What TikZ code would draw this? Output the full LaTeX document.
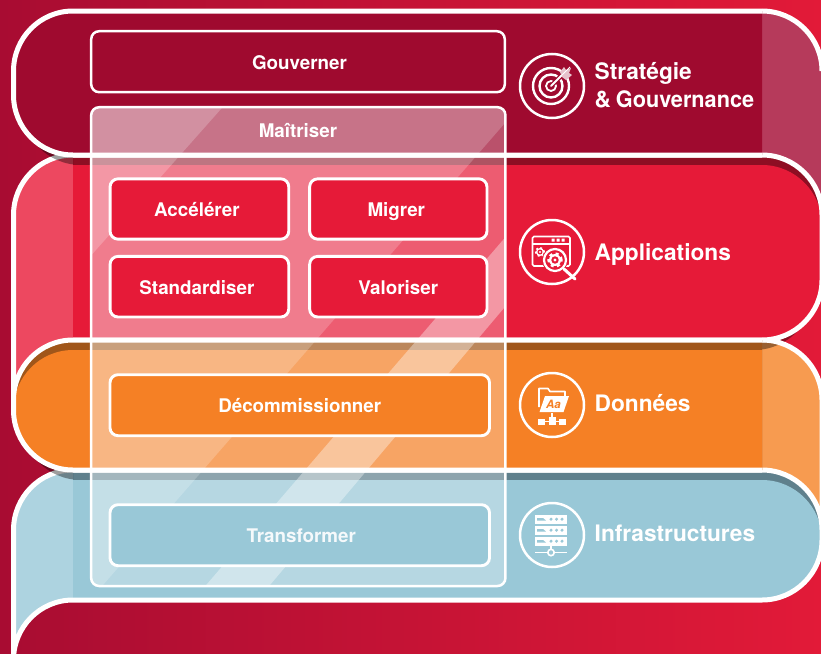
\documentclass[tikz,border=0pt]{standalone}
\usepackage{fontspec}
\setmainfont{TeX Gyre Heros}
\definecolor{bgL}{HTML}{A80C32}
\definecolor{bgR}{HTML}{E21A38}
\definecolor{bandA}{HTML}{9F0A2F}
\definecolor{bandAl}{HTML}{B63A5B}
\definecolor{bandB}{HTML}{E61A38}
\definecolor{bandBl}{HTML}{ED4860}
\definecolor{bandBd}{HTML}{8E0E23}
\definecolor{bandC}{HTML}{F58025}
\definecolor{bandCl}{HTML}{F79B50}
\definecolor{bandCd}{HTML}{A0561A}
\definecolor{bandD}{HTML}{99C8D7}
\definecolor{bandDl}{HTML}{ADD3E0}
\definecolor{bandDd}{HTML}{5F808C}
\def\PathA{(762,11) -- (73,11) .. controls (40,11) and (13.5,38) .. (13.5,71) -- (13.5,95) .. controls (13.5,128) and (40,155) .. (73,155) -- (762,155)}
\def\PathB{(13.5,400) -- (13.5,215) .. controls (13.5,182) and (40,155) .. (73,155) -- (762,155) .. controls (795,155) and (822,182) .. (822,215) -- (822,280) .. controls (822,313) and (795,340) .. (762,340) -- (73,340)}
\def\PathC{(762,340) -- (73,340) .. controls (40,340) and (13.5,367) .. (13.5,400) -- (13.5,410) .. controls (13.5,443) and (40,470) .. (73,470) -- (762,470)}
\def\PathD{(73,600) .. controls (40,600) and (13.5,627) .. (13.5,660) -- (13.5,530) .. controls (13.5,497) and (40,470) .. (73,470) -- (762,470) .. controls (795,470) and (822,497) .. (822,530) -- (822,540) .. controls (822,573) and (795,600) .. (762,600) -- cycle}
\tikzset{
  edgeline/.style={draw=white,line width=5pt},
  shadowfill/.style={fill=black,fill opacity=.38},
  boxfont/.style={text=white,font=\fontsize{18.8}{20}\selectfont\bfseries,text height=15.5pt,text depth=0pt},
  boxA/.style={draw=white,line width=2.9pt,rounded corners=8pt,minimum height=61pt,inner sep=0pt,boxfont},
  sidelabel/.style={text=white,font=\fontsize{22.7}{27}\selectfont\bfseries,anchor=base west,inner sep=0pt},
  ring/.style={draw=white,line width=2.5pt},
}
\newcommand{\gearmark}[4]{% x y r colour
  \fill[white] (#1,#2) circle[radius=#3*1pt];
  \draw[white,line width=#3*.45pt,dash pattern=on #3*.5pt off #3*.55pt] (#1,#2) circle[radius=#3*1.05pt];
  \fill[#4] (#1,#2) circle[radius=#3*.62pt];
  \fill[white] (#1,#2) circle[radius=#3*.28pt];
}
\begin{document}
\begin{tikzpicture}[x=1pt,y=-1pt]
\useasboundingbox (0,0) rectangle (821,653);
\clip (0,0) rectangle (821,653);
% background
\shade[left color=bgL,right color=bgR] (0,0) rectangle (821,653);
% fold of band A
\fill[bandAl] (762,11) .. controls (795,11) and (822,38) .. (822,71) -- (822,230) -- (762,230) -- cycle;
\draw[edgeline] (762,11) .. controls (795,11) and (822,38) .. (822,71);
% fold of band C
\fill[bandCl] (762,340) .. controls (795,340) and (822,367) .. (822,400) -- (822,560) -- (762,560) -- cycle;
% shadow of band B on fold
\begin{scope}
  \clip (762,300) rectangle (830,400);
  \path[shadowfill,shift={(-8,10)}] \PathB -- cycle;
\end{scope}
\draw[edgeline] (762,340) .. controls (795,340) and (822,367) .. (822,400) -- (822,560);
% band B
\begin{scope}
  \clip \PathB -- cycle;
  \fill[bandB] (0,150) rectangle (830,410);
  \fill[bandBd] (73,150) rectangle (830,240);
  \path[fill=bandB,shift={(0,10)}] \PathB -- cycle;
  \fill[bandBl] (0,150) rectangle (73,410);
\end{scope}
\path[edgeline] \PathB;
% shadow of band A on band B and background
\begin{scope}
  \clip (0,100) rectangle (73,200);
  \path[shadowfill,shift={(8,10)}] \PathA -- cycle;
\end{scope}
% band A
\path[fill=bandA] \PathA -- cycle;
\path[edgeline] \PathA;
% band D
\begin{scope}
  \clip \PathD;
  \fill[bandD] (0,460) rectangle (830,660);
  \fill[bandDd] (73,460) rectangle (830,560);
  \path[fill=bandD,shift={(0,10)}] \PathD;
  \fill[bandDl] (0,460) rectangle (73,660);
\end{scope}
\path[edgeline] \PathD;
% shadow of band C
\begin{scope}
  \clip (0,420) rectangle (73,500);
  \path[shadowfill,shift={(8,10)}] \PathC -- cycle;
\end{scope}
% band C
\begin{scope}
  \clip \PathC -- cycle;
  \fill[bandCd] (0,330) rectangle (770,480);
  \path[fill=bandC,shift={(0,10)}] \PathC -- cycle;
  \fill[bandC] (0,400) rectangle (770,480);
\end{scope}
\path[edgeline] \PathC;
% translucent panel
\begin{scope}
  \clip[rounded corners=8pt] (91,107) rectangle (505.5,586);
  \fill[white,fill opacity=.29] (80,100) rectangle (520,600);
  \fill[white,fill opacity=.2] (80,100) -- (525,100) -- (90,600) -- (80,600) -- cycle;
  \fill[white,fill opacity=.21] (80,100) -- (229,100) -- (80,268) -- cycle;
  \fill[white,fill opacity=.366] (515,226) -- (515,295) -- (259,598) -- (195,598) -- cycle;
\end{scope}
\node[draw=white,line width=2.5pt,rounded corners=8pt,minimum width=414.3pt,minimum height=478.8pt,inner sep=0pt] (panel) at (298.3,346.6) {};
\node[boxfont,inner sep=0pt] (mait) at (298,130) {Maîtriser};
% boxes
\node[boxA,line width=2.5pt,minimum width=413.6pt] (gouv) at (298,61.7) {\hspace*{3pt}Gouverner};
\node[boxA,fill=bandB,minimum width=178.7pt,minimum height=60.3pt] (acc) at (199.4,209) {\hspace*{-5pt}Accélérer};
\node[boxA,fill=bandB,minimum width=177.3pt,minimum height=60.3pt] (mig) at (398.3,209) {\hspace*{-4pt}Migrer};
\node[boxA,fill=bandB,minimum width=178.7pt,minimum height=60.6pt] (sta) at (199.4,286.7) {\hspace*{-5pt}Standardiser};
\node[boxA,fill=bandB,minimum width=177.3pt,minimum height=60.6pt] (val) at (398.3,286.7) {Valoriser};
\node[boxA,fill=bandC,minimum width=379.5pt] (dec) at (299.75,405.2) {Décommissionner};
\node[boxA,fill=bandD,minimum width=379.5pt,text=white!90!bandD] (tra) at (299.75,535.2) {\hspace*{3pt}Transformer};
% side labels
\node[sidelabel] (strat) at (594.5,79) {Stratégie};
\node[sidelabel] (gouvl) at (594.5,107) {\&\hspace{-1.5pt} \scalebox{0.955}[1]{Gouvernance}};
\node[sidelabel] (appl) at (594.5,260) {Applications};
\node[sidelabel] (donn) at (594.5,411) {Données};
\node[sidelabel] (infr) at (594.5,541) {Infrastructures};
% icon rings
\node[ring,circle,minimum size=64pt,inner sep=0pt] (icA) at (552,86) {};
\node[ring,circle,minimum size=64pt,inner sep=0pt] (icB) at (552,252) {};
\node[ring,circle,minimum size=64pt,inner sep=0pt] (icC) at (552,405) {};
\node[ring,circle,minimum size=64pt,inner sep=0pt] (icD) at (552,535) {};
% target icon
\draw[white,line width=2.4pt] (551,86) circle[radius=18pt];
\draw[white,line width=2.4pt] (551,86) circle[radius=11.5pt];
\draw[white,line width=1.8pt] (551,86) circle[radius=5pt];
\draw[bandA,line width=4.5pt] (553,84) -- (566,71);
\draw[white,line width=1.8pt,line cap=round] (551,86) -- (565,72);
\fill[white!75!bandA] (560,72) -- (564,67) -- (566,70) -- (571,68) -- (569,73) -- (572,75) -- (566,80) -- (562,77) -- cycle;
\draw[white,line width=1pt] (558,79) -- (570,67);
% application icon
\draw[white,line width=1.6pt,rounded corners=1.5pt] (532.5,236.5) rectangle (570,266);
\draw[white,line width=1.6pt] (532.5,244) -- (570,244);
\fill[white] (551.5,238.5) rectangle (554.5,241.5) (556.5,238.5) rectangle (559.5,241.5) (561.5,238.5) rectangle (564.5,241.5);
\gearmark{540}{252}{4}{bandB}
\fill[bandB] (555,260) circle[radius=13pt];
\draw[white,line width=2.2pt] (555,260) circle[radius=11pt];
\gearmark{555}{260}{6}{bandB}
\draw[white,line width=3pt,line cap=round] (564,269) -- (575,279);
% data icon
\draw[white,line width=1.6pt,line join=round] (539,407) -- (539,388.5) -- (548,388.5) -- (550,391.5) -- (565,391.5) -- (565,396);
\fill[white] (545,396) -- (569,396) -- (563.5,412) -- (539.5,412) -- cycle;
\node[text=bandC,inner sep=0pt,font=\fontsize{11.5}{12}\selectfont\bfseries\itshape] (aa) at (553.5,404) {Aa};
\fill[white] (548.5,416.5) rectangle (555.5,425);
\fill[white] (537.5,418.5) rectangle (544.5,424.5);
\fill[white] (559,418.5) rectangle (566,424.5);
\draw[white,line width=1pt] (544,421.5) -- (560,421.5);
\draw[white,line width=1.2pt] (552,413) -- (552,417);
% server icon
\foreach \yy in {515,526,537}{
  \fill[white] (535,\yy) rectangle (567,\yy+8.5);
  \fill[bandD] (537,\yy+3) -- (543,\yy+3) -- (546,\yy+5.5) -- (537,\yy+5.5) -- cycle;
  \fill[bandD] (551,\yy+4.2) circle[radius=1.7pt] (556.5,\yy+4.2) circle[radius=1.7pt] (562,\yy+4.2) circle[radius=1.7pt];
}
\draw[white,line width=1.6pt] (551,545) -- (551,549);
\draw[white,line width=1.6pt] (535,552.5) -- (547.5,552.5) (554.5,552.5) -- (567,552.5);
\draw[white,line width=1.6pt] (551,552.5) circle[radius=3.2pt];
\end{tikzpicture}
\end{document}
